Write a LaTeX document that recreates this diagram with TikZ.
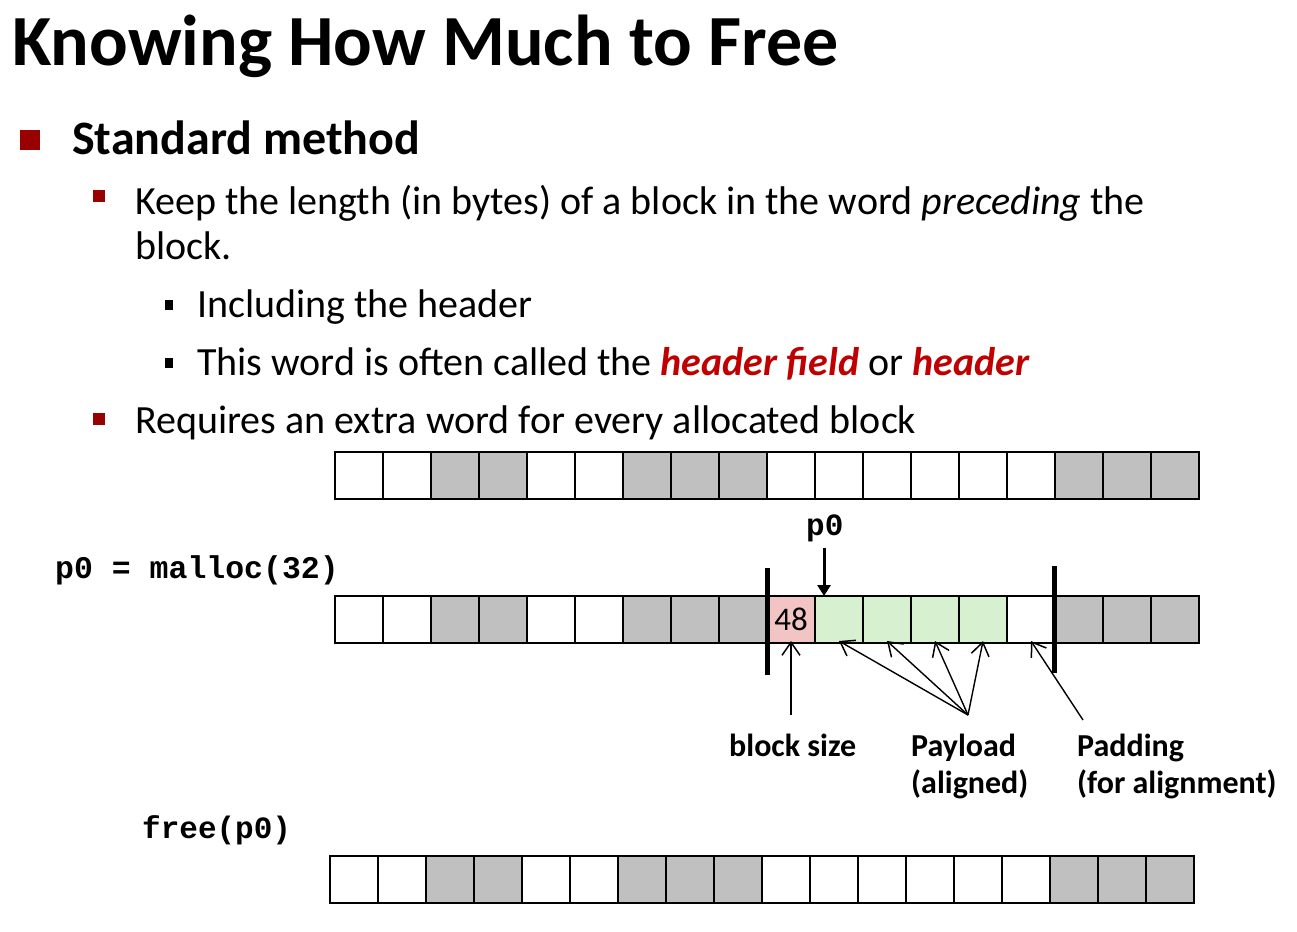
\documentclass[tikz,border=0pt]{standalone}
\usepackage{fontspec}
\setmainfont{Carlito}
\newfontfamily\cour{Liberation Mono}
\usetikzlibrary{arrows.meta}
\definecolor{cg}{RGB}{192,192,192}
\definecolor{cw}{RGB}{255,255,255}
\definecolor{cp}{RGB}{242,196,196}
\definecolor{cn}{RGB}{214,240,208}
\definecolor{bulred}{RGB}{153,0,0}
\definecolor{hred}{RGB}{192,0,0}
\tikzset{
  cell/.style={draw=black,line width=2pt,minimum width=48pt,minimum height=47pt,inner sep=0pt,outer sep=0pt},
  txt/.style={anchor=base west,inner sep=0pt},
  bar/.style={line width=5pt,black},
  thin arrow/.style={line width=1.4pt,-{Straight Barb[length=13pt,width=18pt,line width=1.5pt]}},
  p arrow/.style={line width=3pt,-{Triangle[length=11pt,width=13pt]}},
}
\begin{document}
\begin{tikzpicture}[x=1pt,y=-1pt]
\useasboundingbox (0,0) rectangle (1297,931);
% title
\node[txt] (title) at (12,66) {\fontsize{72}{84}\selectfont\bfseries Knowing How Much to Free};
% bullets
\fill[bulred] (20,130) rectangle (40,150);
\node[txt] (l1) at (72,154) {\fontsize{48}{56}\selectfont\bfseries Standard method};
\fill[bulred] (93,190) rectangle (105,202);
\node[txt] (l2a) at (135,214) {\fontsize{40}{48}\selectfont Keep the length (in bytes) of a block in the word \textit{preceding} the};
\node[txt] (l2b) at (135,259) {\fontsize{40}{48}\selectfont block.};
\fill[black] (165,300) rectangle (173,310);
\node[txt] (l3a) at (197,317) {\fontsize{40}{48}\selectfont Including the header};
\fill[black] (165,358) rectangle (173,368);
\node[txt] (l3b) at (197,375) {\fontsize{40}{48}\selectfont This word is often called the \textcolor{hred}{\bfseries\itshape header field} or \textcolor{hred}{\bfseries\itshape header}};
\fill[bulred] (93,413) rectangle (105,425);
\node[txt] (l2c) at (135,433) {\fontsize{40}{48}\selectfont Requires an extra word for every allocated block};
% row 1
\foreach \c [count=\i from 0] in {w,w,g,g,w,w,g,g,g,w,w,w,w,w,w,g,g,g}
  \node[cell,fill=c\c] (a\i) at (359+48*\i,475.5) {};
% row 2
\foreach \c [count=\i from 0] in {w,w,g,g,w,w,g,g,g,p,n,n,n,n,w,g,g,g}
  \node[cell,fill=c\c] (b\i) at (359+48*\i,619.5) {};
\node[inner sep=0pt] (n48) at (b9.center) {\fontsize{33}{38}\selectfont 48};
% row 3
\foreach \c [count=\i from 0] in {w,w,g,g,w,w,g,g,g,w,w,w,w,w,w,g,g,g}
  \node[cell,fill=c\c] (c\i) at (354+48*\i,879) {};
% bars
\draw[bar] (767,568) -- (767,675);
\draw[bar] (1054,566) -- (1054,673);
% code labels
\node[txt] (malloc) at (55,578) {\fontsize{31.5}{36}\selectfont\cour\bfseries p0 = malloc(32)};
\node[txt] (free) at (142,838) {\fontsize{31}{36}\selectfont\cour\bfseries free(p0)};
\node[txt] (p0) at (806,535) {\fontsize{31}{36}\selectfont\cour\bfseries p0};
\coordinate (p0s) at (824,548);
\draw[p arrow] (p0s) -- ([xshift=9pt]b10.north west);
% labels
\node[txt] (bs) at (729,756) {\fontsize{32}{37}\selectfont\bfseries block size};
\node[txt] (pl1) at (911,756) {\fontsize{32}{37}\selectfont\bfseries Payload};
\node[txt] (pl2) at (911,793) {\fontsize{32}{37}\selectfont\bfseries (aligned)};
\node[txt] (pd1) at (1077,756) {\fontsize{32}{37}\selectfont\bfseries Padding};
\node[txt] (pd2) at (1077,793) {\fontsize{32}{37}\selectfont\bfseries (for alignment)};
\coordinate (bsT) at (791,715);
\coordinate (plT) at (968,715);
\coordinate (pdT) at (1083,720);
\draw[thin arrow] (bsT) -- ([yshift=2pt]b9.south);
\draw[thin arrow] (plT) -- ([yshift=2pt]b10.south);
\draw[thin arrow] (plT) -- ([yshift=2pt]b11.south);
\draw[thin arrow] (plT) -- ([yshift=2pt]b12.south);
\draw[thin arrow] (plT) -- ([yshift=2pt]b13.south);
\draw[thin arrow] (pdT) -- ([yshift=2pt]b14.south);
\end{tikzpicture}
\end{document}
